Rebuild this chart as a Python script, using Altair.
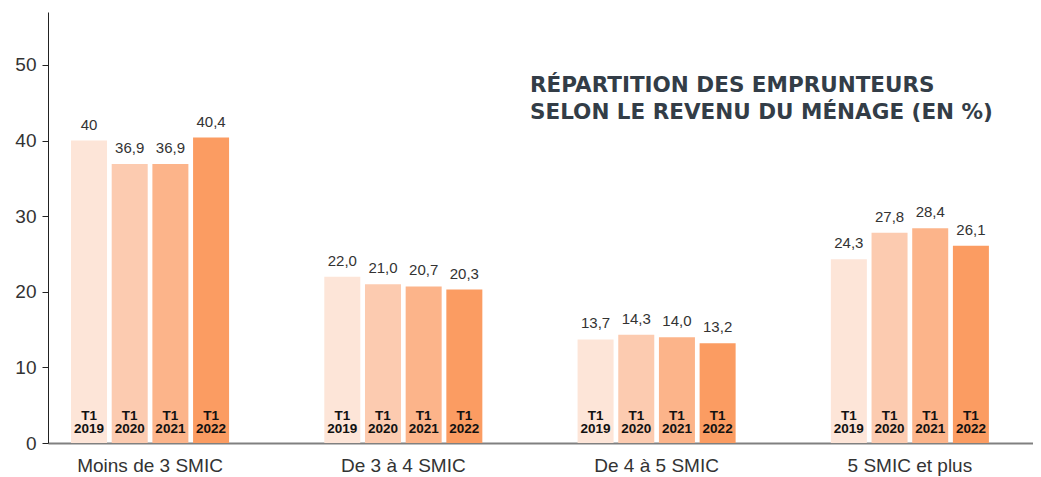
import altair as alt
import pandas as pd

categories = ["Moins de 3 SMIC", "De 3 à 4 SMIC", "De 4 à 5 SMIC", "5 SMIC et plus"]
periods = ["2019", "2020", "2021", "2022"]
values_2019 = [40.0, 22.0, 13.7, 24.3]
values_2020 = [36.9, 21.0, 14.3, 27.8]
values_2021 = [36.9, 20.7, 14.0, 28.4]
values_2022 = [40.4, 20.3, 13.2, 26.1]
labels_2019 = ["40", "22,0", "13,7", "24,3"]
labels_2020 = ["36,9", "21,0", "14,3", "27,8"]
labels_2021 = ["36,9", "20,7", "14,0", "28,4"]
labels_2022 = ["40,4", "20,3", "13,2", "26,1"]
colors = ["#fde5d8", "#fccbb0", "#fcb48a", "#fb9c62"]
title_text = "RÉPARTITION DES EMPRUNTEURS\nSELON LE REVENU DU MÉNAGE (EN %)"

rows = []
for p, vals, labs in zip(periods,
                         [values_2019, values_2020, values_2021, values_2022],
                         [labels_2019, labels_2020, labels_2021, labels_2022]):
    for c, v, l in zip(categories, vals, labs):
        rows.append({"cat": c, "period": p, "value": v, "label": l})
df = pd.DataFrame(rows)

FONT = "Liberation Sans"

base = alt.Chart(df).encode(
    x=alt.X("cat:N", sort=categories, title=None,
            scale=alt.Scale(paddingInner=0.376, paddingOuter=0.1325, align=0.343),
            axis=alt.Axis(labelAngle=0, ticks=False, labelFontSize=19, labelColor="#333333",
                          labelFont=FONT, labelPadding=13, domainColor="#808080",
                          domainWidth=2)),
    xOffset=alt.XOffset("period:N", sort=periods,
                        scale=alt.Scale(paddingInner=0.115, paddingOuter=0)),
)

bars = base.mark_bar().encode(
    y=alt.Y("value:Q", title=None,
            scale=alt.Scale(domain=[0, 57], nice=False),
            axis=alt.Axis(values=[0, 10, 20, 30, 40, 50], grid=False, tickSize=6,
                          tickColor="#222222", domainColor="#222222", domainWidth=1,
                          labelFontSize=19, labelColor="#333333", labelFont=FONT,
                          labelPadding=6)),
    color=alt.Color("period:N", sort=periods,
                    scale=alt.Scale(domain=periods, range=colors), legend=None),
)

value_labels = base.mark_text(baseline="alphabetic", dy=-11, fontSize=15,
                              font=FONT, color="#333333").encode(
    y="value:Q", text="label:N")

t1_labels = base.mark_text(baseline="alphabetic", dy=-23, fontSize=13.5, font=FONT,
                           fontWeight="bold", color="#111111").encode(
    y=alt.datum(0), text=alt.value("T1"))

year_labels = base.mark_text(baseline="alphabetic", dy=-10, fontSize=13.5, font=FONT,
                             fontWeight="bold", color="#111111").encode(
    y=alt.datum(0), text="period:N")

title = alt.Chart(pd.DataFrame({"t": [title_text]})).mark_text(
    align="left", baseline="alphabetic", lineBreak="\n", lineHeight=27,
    fontSize=21.5, font="DejaVu Sans", fontWeight="bold", color="#333d47").encode(
    x=alt.value(482), y=alt.value(80), text="t:N")

chart = alt.layer(bars, value_labels, t1_labels, year_labels, title).properties(
    width=985, height=431,
    padding={"left": 40, "top": 4, "right": 0, "bottom": 34},
    autosize="none",
).configure_view(stroke=None)

chart.save("out.html", embed_options={"renderer": "svg", "actions": False})
